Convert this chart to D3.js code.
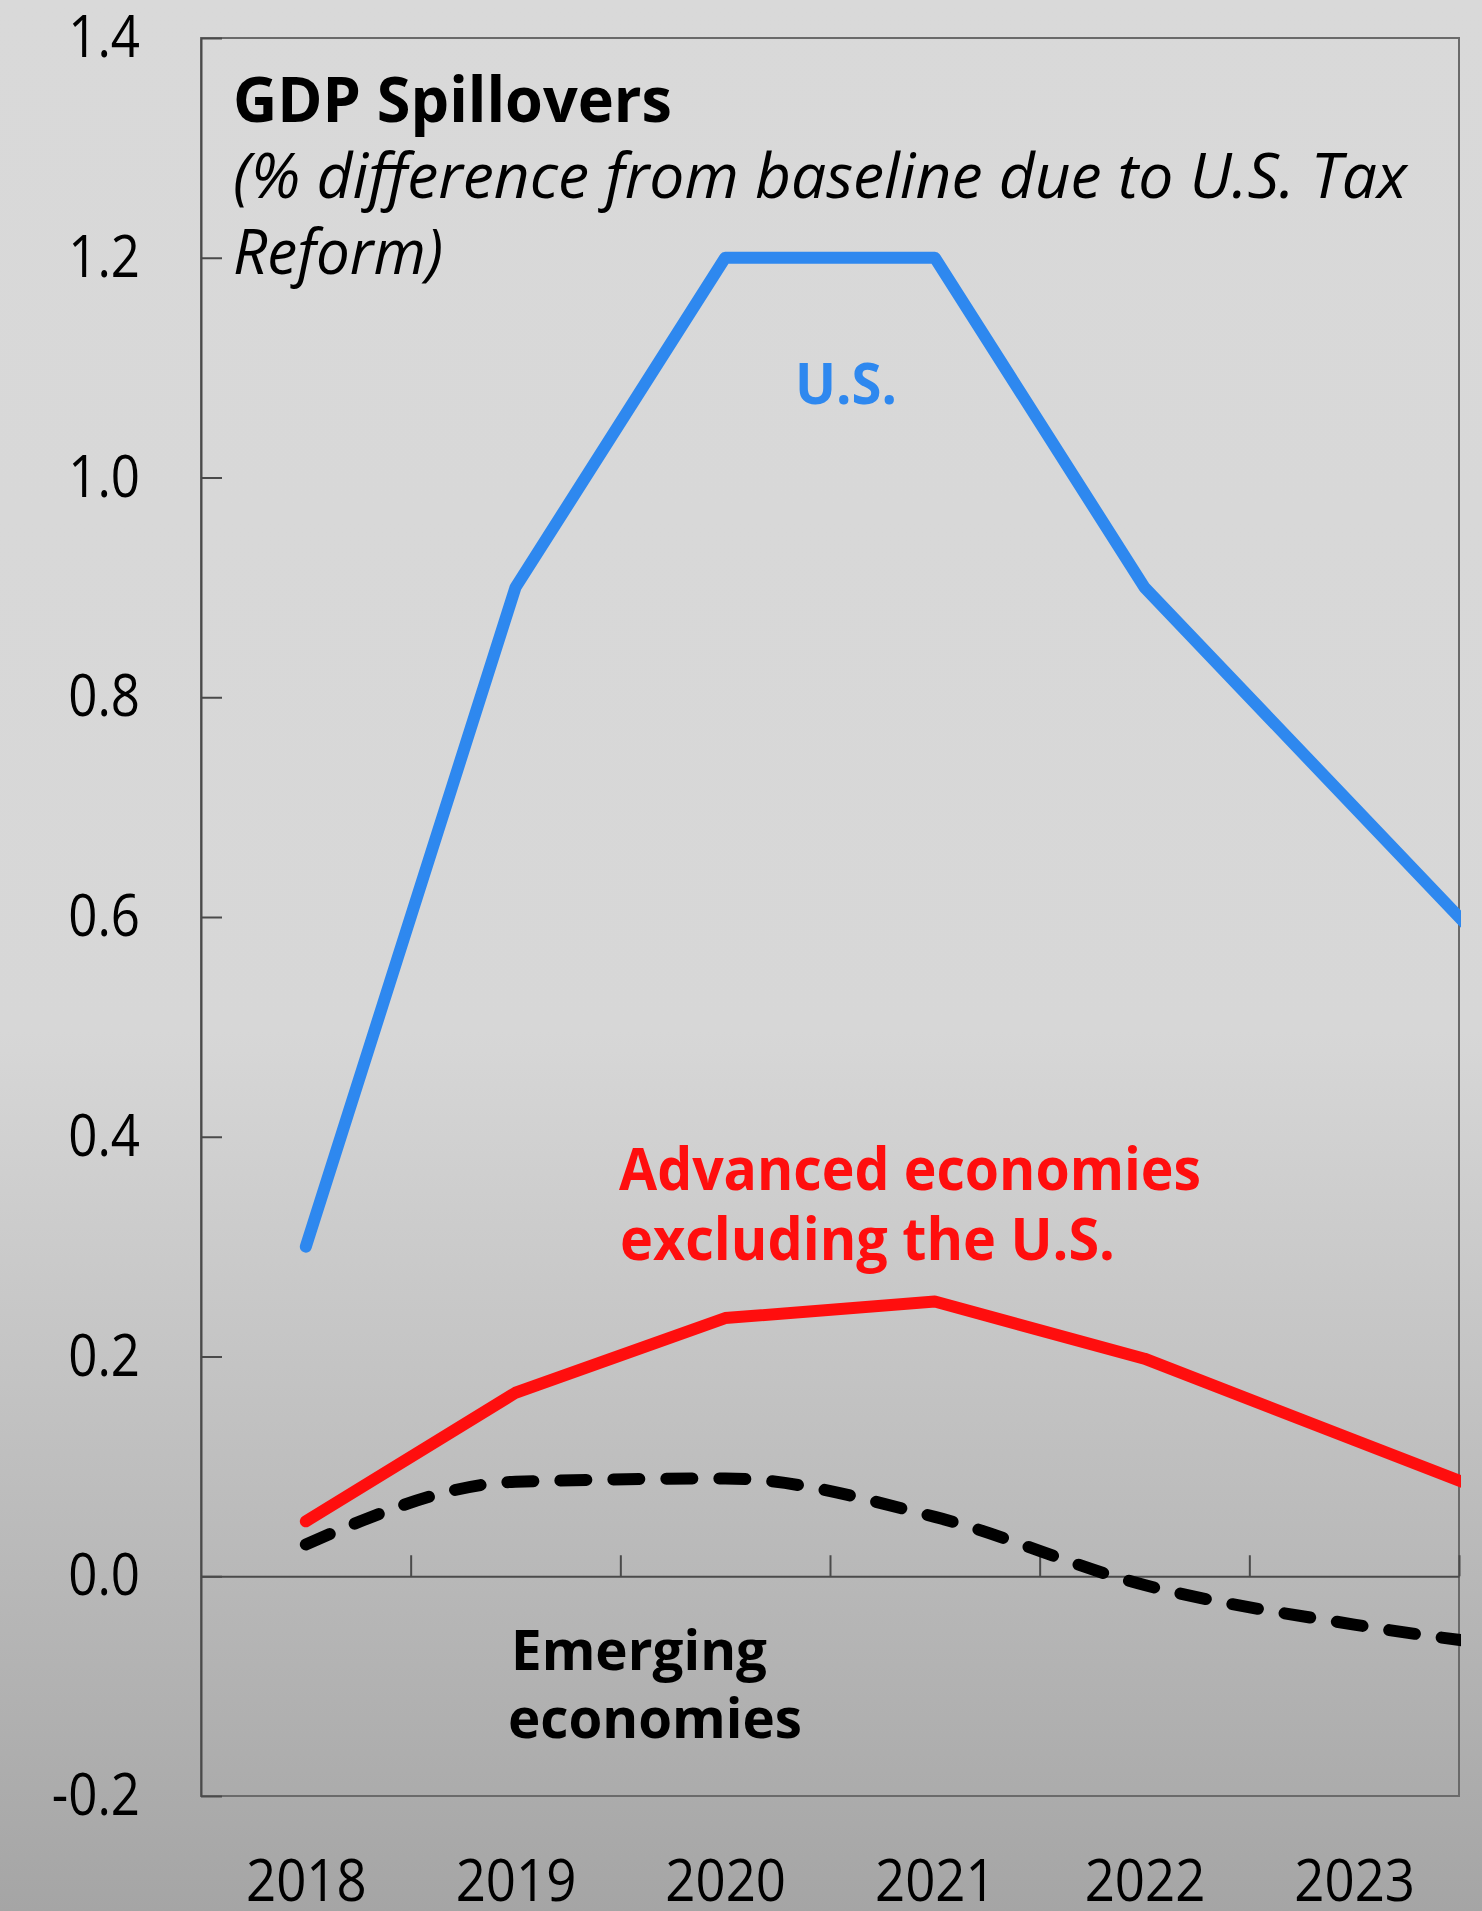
<!DOCTYPE html>
<html>
<head>
<meta charset="utf-8">
<script src="https://cdn.jsdelivr.net/npm/d3@7"></script>
<style>
  html, body { margin: 0; padding: 0; background: #d9d9d9; }
  svg { display: block; }
  text { font-family: "Open Sans", "Noto Sans", sans-serif; }
</style>
</head>
<body>
<svg id="chart" width="1482" height="1911"></svg>
<script>
// ---- data -------------------------------------------------------------
const years          = [2018, 2019, 2020, 2021, 2022, 2023, 2024];
const axisYears      = [2018, 2019, 2020, 2021, 2022, 2023];
const usValues       = [0.30, 0.90, 1.20, 1.20, 0.90, 0.70, 0.50];
const advancedValues = [0.050, 0.167, 0.235, 0.250, 0.198, 0.124, 0.050];
const emergingValues = [0.029, 0.086, 0.089, 0.054, -0.008, -0.044, -0.070];
const yTicks         = [-0.2, 0.0, 0.2, 0.4, 0.6, 0.8, 1.0, 1.2, 1.4];

const titleText    = "GDP Spillovers";
const subtitleText = ["(% difference from baseline due to U.S. Tax", "Reform)"];
const usLabel       = ["U.S."];
const advancedLabel = ["Advanced economies", "excluding the U.S."];
const emergingLabel = ["Emerging", "economies"];

// ---- layout -----------------------------------------------------------
const W = 1482, H = 1911;
const plot = { left: 201, right: 1459, top: 38, bottom: 1796 };
const colors = { us: "#2E88EF", adv: "#FF0E0E", em: "#000000", axis: "#4a4a4a", frame: "#6a6a6a" };
const lineWidth = 12;

const svg = d3.select("#chart");

// background: flat light grey that darkens towards the bottom
const defs = svg.append("defs");
const grad = defs.append("linearGradient")
  .attr("id", "bg").attr("x1", 0).attr("y1", 0).attr("x2", 0).attr("y2", 1);
grad.append("stop").attr("offset", "0").attr("stop-color", "#d9d9d9");
grad.append("stop").attr("offset", "0.54").attr("stop-color", "#d7d7d7");
grad.append("stop").attr("offset", "1").attr("stop-color", "#a5a5a5");
svg.append("rect").attr("width", W).attr("height", H).attr("fill", "url(#bg)");

defs.append("clipPath").attr("id", "plotClip")
  .append("rect")
  .attr("x", plot.left).attr("y", 0)
  .attr("width", plot.right - plot.left + 2).attr("height", H);

// ---- scales -----------------------------------------------------------
const x = d3.scaleLinear()
  .domain([axisYears[0] - 0.5, axisYears[axisYears.length - 1] + 0.5])
  .range([plot.left, plot.right]);
const y = d3.scaleLinear()
  .domain([yTicks[0], yTicks[yTicks.length - 1]])
  .range([plot.bottom, plot.top]);

// ---- frame ------------------------------------------------------------
svg.append("rect")
  .attr("x", plot.left).attr("y", plot.top)
  .attr("width", plot.right - plot.left).attr("height", plot.bottom - plot.top)
  .attr("fill", "none").attr("stroke", colors.frame).attr("stroke-width", 2);

// condense the sans face a little so digits sit like the original face
function condense(sel, k) {
  sel.each(function () {
    const len = this.getComputedTextLength();
    d3.select(this).attr("textLength", len * k).attr("lengthAdjust", "spacingAndGlyphs");
  });
}

// one decimal, plain hyphen for negatives
const fmt1 = d => d3.format(".1f")(d).replace("\u2212", "-");

// y axis: ticks point into the plot, labels on the left
const yAxis = d3.axisLeft(y)
  .tickValues(yTicks)
  .tickFormat(fmt1)
  .tickSizeInner(-21)
  .tickSizeOuter(0)
  .tickPadding(61);
const gy = svg.append("g").attr("transform", `translate(${plot.left},0)`).call(yAxis);
gy.select(".domain").attr("stroke", colors.axis).attr("stroke-width", 2);
gy.selectAll(".tick line").attr("stroke", colors.axis).attr("stroke-width", 2);
gy.selectAll(".tick text")
  .attr("font-size", 58).attr("fill", "#000")
  .style("font-family", "'Open Sans', sans-serif")
  .call(condense, 0.88);

// x axis line at zero with category-boundary ticks pointing up
const boundaries = axisYears.map(d => d + 0.5);
const xAxisLine = d3.axisBottom(x)
  .tickValues(boundaries)
  .tickFormat("")
  .tickSizeInner(-21)
  .tickSizeOuter(0);
const gx = svg.append("g").attr("transform", `translate(0,${y(0)})`).call(xAxisLine);
gx.select(".domain").attr("stroke", colors.axis).attr("stroke-width", 2);
gx.selectAll(".tick line").attr("stroke", colors.axis).attr("stroke-width", 2);

// year labels along the bottom of the plot
const xLabels = d3.axisBottom(x)
  .tickValues(axisYears)
  .tickFormat(d3.format("d"))
  .tickSize(0)
  .tickPadding(64);
const gxl = svg.append("g").attr("transform", `translate(0,${plot.bottom})`).call(xLabels);
gxl.select(".domain").remove();
gxl.selectAll(".tick text")
  .attr("font-size", 58).attr("fill", "#000")
  .style("font-family", "'Open Sans', sans-serif")
  .call(condense, 0.91);

// ---- series -----------------------------------------------------------
const toPoints = vals => years.map((yr, i) => ({ year: yr, value: vals[i] }));
const straight = d3.line().x(d => x(d.year)).y(d => y(d.value));
const smooth = d3.line().x(d => x(d.year)).y(d => y(d.value)).curve(d3.curveMonotoneX);

const lines = svg.append("g").attr("clip-path", "url(#plotClip)");

lines.append("path")
  .attr("d", smooth(toPoints(emergingValues)))
  .attr("fill", "none").attr("stroke", colors.em).attr("stroke-width", lineWidth)
  .attr("stroke-dasharray", "26 27").attr("stroke-linecap", "round").attr("stroke-linejoin", "round");

lines.append("path")
  .attr("d", straight(toPoints(advancedValues)))
  .attr("fill", "none").attr("stroke", colors.adv).attr("stroke-width", lineWidth)
  .attr("stroke-linecap", "round").attr("stroke-linejoin", "round");

lines.append("path")
  .attr("d", straight(toPoints(usValues)))
  .attr("fill", "none").attr("stroke", colors.us).attr("stroke-width", lineWidth)
  .attr("stroke-linecap", "round").attr("stroke-linejoin", "round");

// ---- text blocks --------------------------------------------------------
function block(lines, opts) {
  lines.forEach((t, i) => {
    svg.append("text")
      .attr("x", opts.x[i] ?? opts.x[0])
      .attr("y", opts.y[i])
      .attr("font-size", opts.size)
      .attr("font-weight", opts.weight || "normal")
      .attr("font-style", opts.style || "normal")
      .attr("fill", opts.fill || "#000")
      .attr("textLength", opts.len[i])
      .attr("lengthAdjust", "spacingAndGlyphs")
      .text(t);
  });
}

block([titleText], { x: [233], y: [122], size: 63, weight: "bold", len: [439] });
block(subtitleText, { x: [233], y: [198, 274], size: 63, style: "italic", len: [1174, 210] });
block(usLabel, { x: [795], y: [404], size: 57, weight: "bold", fill: colors.us, len: [102] });
block(advancedLabel, { x: [619, 620], y: [1190, 1260], size: 59, weight: "bold", fill: colors.adv, len: [582, 495] });
block(emergingLabel, { x: [511, 508], y: [1670, 1738], size: 56, weight: "bold", fill: colors.em, len: [256, 294] });
</script>
</body>
</html>
